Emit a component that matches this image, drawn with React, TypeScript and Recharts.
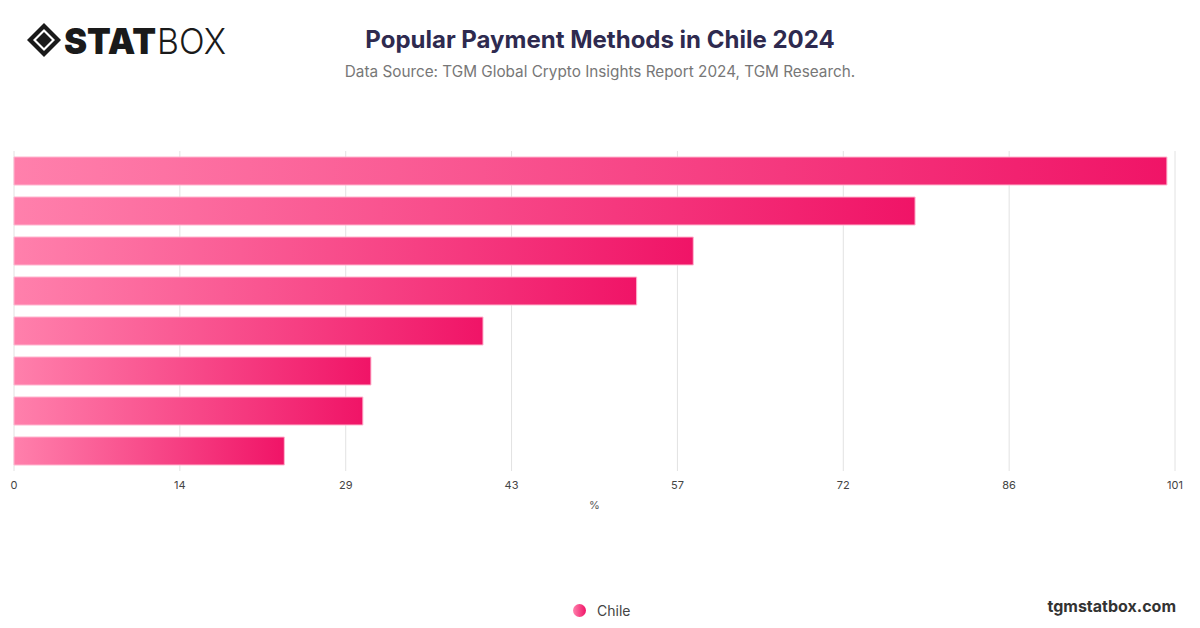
import React from "react";
import { BarChart, Bar, XAxis, YAxis, CartesianGrid } from "recharts";

const METHODS = [
  "Debit card",
  "Credit card",
  "Bank transfer",
  "Cash",
  "Digital wallet",
  "Prepaid card",
  "Buy now, pay later",
  "Cryptocurrency",
];
const CHILE = [99.8, 78.0, 58.8, 53.9, 40.6, 30.9, 30.2, 23.4];
const X_MAX = 100.5;
const X_TICKS = [0, 1, 2, 3, 4, 5, 6, 7].map((k) => (X_MAX * k) / 7);

const data = METHODS.map((method, i) => ({ method, chile: CHILE[i] }));

const FONT = "Inter, 'Noto Sans', sans-serif";

function Logo() {
  return (
    <svg width={270} height={48} style={{ position: "absolute", left: 24, top: 18 }}>
      {/* diamond mark */}
      <polygon points="20,5 37,22 20,39 3,22" fill="#1a1a1a" />
      <polygon points="20,11 31,22 20,33 9,22" fill="#fff" />
      <polygon points="20,14 28,22 20,30 12,22" fill="#1a1a1a" />
      <text
        x={40}
        y={36}
        fontFamily={FONT}
        fontWeight={900}
        fontSize={36}
        fill="#1a1a1a"
        textLength={92}
        lengthAdjust="spacingAndGlyphs"
      >
        STAT
      </text>
      <text
        x={133}
        y={36}
        fontFamily={FONT}
        fontWeight={300}
        fontSize={36}
        fill="#1a1a1a"
        textLength={69}
        lengthAdjust="spacingAndGlyphs"
      >
        BOX
      </text>
    </svg>
  );
}

export default function App() {
  return (
    <div
      style={{
        position: "relative",
        width: 1200,
        height: 628,
        background: "#fff",
        fontFamily: FONT,
        overflow: "hidden",
      }}
    >
      <style>{"body{margin:0}"}</style>
      <Logo />
      <div
        style={{
          position: "absolute",
          top: 25,
          left: 0,
          width: 1200,
          textAlign: "center",
          fontSize: 24,
          fontWeight: 700,
          color: "#2e2a4f",
        }}
      >
        Popular Payment Methods in Chile 2024
      </div>
      <div
        style={{
          position: "absolute",
          top: 62,
          left: 0,
          width: 1200,
          textAlign: "center",
          fontSize: 15.3,
          color: "#777",
        }}
      >
        Data Source: TGM Global Crypto Insights Report 2024, TGM Research.
      </div>

      <div style={{ position: "absolute", left: 0, top: 0 }}>
        <BarChart
          width={1200}
          height={628}
          data={data}
          layout="vertical"
          barCategoryGap="15%"
          margin={{ top: 151, right: 25, left: 14, bottom: 117 }}
        >
          <defs>
            <linearGradient id="pinkGrad" x1="0" y1="0" x2="1" y2="0">
              <stop offset="0%" stopColor="#ff80ac" />
              <stop offset="100%" stopColor="#f01467" />
            </linearGradient>
          </defs>
          <CartesianGrid horizontal={false} stroke="#e2e2e2" />
          <XAxis
            type="number"
            domain={[0, X_MAX]}
            ticks={X_TICKS}
            tickFormatter={(v) => `${Math.round(v)}`}
            axisLine={false}
            tickLine={false}
            tickMargin={4}
            tick={{ fill: "#444", fontSize: 11 }}
            height={40}
            label={{ value: "%", position: "insideBottom", offset: 2, fill: "#555", fontSize: 11 }}
          />
          <YAxis
            type="category"
            dataKey="method"
            width={0}
            tick={false}
            tickLine={false}
            axisLine={{ stroke: "#333" }}
          />
          <Bar
            dataKey="chile"
            name="Chile"
            fill="url(#pinkGrad)"
            stroke="#ffb6cf"
            strokeWidth={1}
            isAnimationActive={false}
          />
        </BarChart>
      </div>

      {/* Legend */}
      <div
        style={{
          position: "absolute",
          top: 602,
          left: 573,
          display: "flex",
          alignItems: "center",
          gap: 11,
          fontSize: 14,
          color: "#444",
        }}
      >
        <div
          style={{
            width: 13,
            height: 13,
            borderRadius: "50%",
            background: "linear-gradient(90deg, #ff80ac, #f01467)",
          }}
        />
        <span>Chile</span>
      </div>

      <div
        style={{
          position: "absolute",
          top: 596,
          right: 24,
          fontSize: 16,
          fontWeight: 700,
          color: "#333",
        }}
      >
        tgmstatbox.com
      </div>
    </div>
  );
}
